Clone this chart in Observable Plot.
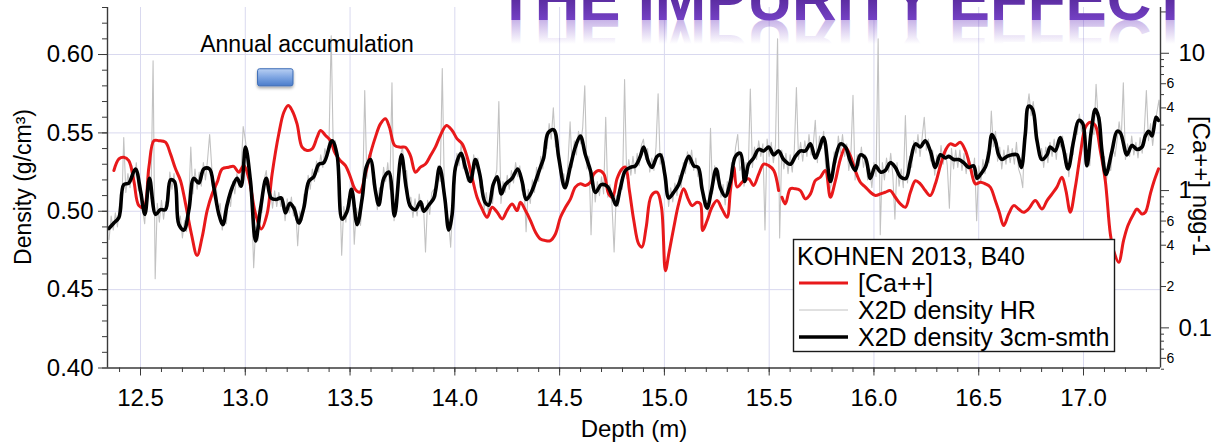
<!DOCTYPE html>
<html>
<head>
<meta charset="utf-8">
<script src="https://cdn.jsdelivr.net/npm/d3@7"></script>
<script src="https://cdn.jsdelivr.net/npm/@observablehq/plot@0.6"></script>
<style>
  html, body { margin: 0; padding: 0; background: #fff; }
  #wrap { position: relative; width: 1218px; height: 443px; overflow: hidden; background: #fff;
          font-family: "Liberation Sans", Arial, sans-serif; }
  #wrap > svg { position: absolute; left: 0; top: 0; }
</style>
</head>
<body>
<div id="wrap"></div>
<script>
// ---------- data ----------
const titleText = "THE IMPURITY EFFECT";
const xLabel = "Depth (m)";
const yLabel = "Density (g/cm³)";
const caLabel = "[Ca++] ngg-1";
const legendTitle = "KOHNEN 2013, B40";
const seriesNames = ["[Ca++]", "X2D density HR", "X2D density 3cm-smth"];

const depthDomain = [12.3425, 17.3674];
const densityDomain = [0.40, 0.63];
const depthTicks = [12.5, 13.0, 13.5, 14.0, 14.5, 15.0, 15.5, 16.0, 16.5, 17.0];
const depthMinor = [12.4,12.5,12.6,12.7,12.8,12.9,13.0,13.1,13.2,13.3,13.4,13.5,13.6,13.7,13.8,13.9,14.0,14.1,14.2,14.3,14.4,14.5,14.6,14.7,14.8,14.9,15.0,15.1,15.2,15.3,15.4,15.5,15.6,15.7,15.8,15.9,16.0,16.1,16.2,16.3,16.4,16.5,16.6,16.7,16.8,16.9,17.0,17.1,17.2,17.3];
const densityTicks = [0.40, 0.45, 0.50, 0.55, 0.60];
const densityGrid = [0.45, 0.50, 0.55, 0.60];
const densityMinor = [0.40,0.41,0.42,0.43,0.44,0.45,0.46,0.47,0.48,0.49,0.50,0.51,0.52,0.53,0.54,0.55,0.56,0.57,0.58,0.59,0.60,0.61,0.62,0.63];
const caMajor = [0.1, 1, 10];
const caLabeled = [0.06, 0.2, 0.4, 0.6, 2, 4, 6, 20];
const caMinor = [0.05, 0.07, 0.08, 0.09, 0.3, 0.5, 0.7, 0.8, 0.9, 3, 5, 7, 8, 9];
// right (log) axis alignment with the density axis: [Ca++]=1 sits at density 0.5132, one decade = 0.0876
const caOne = 0.5132, caDecade = 0.0876;

// smoothed density (3 cm)
const smDepth = [
 12.349,12.373,12.397,12.420,12.444,12.476,12.500,12.521,12.543,12.572,
 12.595,12.619,12.643,12.662,12.683,12.707,12.731,12.754,12.778,12.802,
 12.829,12.850,12.874,12.893,12.913,12.937,12.961,12.980,13.001,13.025,
 13.049,13.073,13.100,13.123,13.147,13.171,13.192,13.212,13.232,13.255,
 13.279,13.303,13.327,13.351,
 13.375,13.414,13.438,13.462,13.486,13.507,13.534,13.558,13.577,13.597,
 13.621,13.637,13.661,13.685,13.712,13.745,13.768,13.788,13.812,13.836,
 13.852,13.876,13.900,13.927,13.952,13.971,13.987,14.003,14.030,14.050,
 14.074,14.098,14.119,14.143,14.162,14.183,14.202,14.222,14.241,14.273,
 14.300,14.321,14.340,
 14.361,14.385,14.408,14.424,14.445,14.472,14.496,14.525,14.552,14.575,
 14.599,14.623,14.647,14.671,14.699,14.726,14.750,14.769,14.790,14.814,
 14.838,14.862,14.885,14.901,14.925,14.941,14.965,14.981,15.002,15.021,
 15.044,15.068,15.092,15.116,15.140,15.161,15.180,15.204,15.224,15.247,
 15.267,15.291,15.315,15.339,
 15.363,15.383,15.402,15.426,15.450,15.474,15.498,15.522,15.545,15.569,
 15.601,15.625,15.649,15.673,15.697,15.720,15.736,15.760,15.792,15.816,
 15.840,15.864,15.887,15.911,15.935,15.959,15.983,16.007,16.031,16.054,
 16.078,16.102,16.126,16.153,16.174,16.198,16.221,16.245,16.269,16.293,
 16.317,16.341,
 16.357,16.380,16.404,16.428,16.452,16.476,16.492,16.508,16.531,16.547,
 16.563,16.579,16.595,16.611,16.635,16.659,16.683,16.703,16.722,16.738,
 16.757,16.778,16.802,16.826,16.841,16.865,16.889,16.905,16.926,16.953,
 16.977,16.996,17.016,17.037,17.056,17.072,17.088,17.107,17.136,17.160,
 17.176,17.207,17.231,17.255,17.279,17.295,17.311,17.327,17.346,17.358
];
const smDensity = [
 .489,.4925,.496,.517,.518,.527,.513,.498,.521,.498,
 .501,.501,.520,.519,.4915,.488,.501,.521,.518,.527,
 .527,.515,.498,.4915,.504,.515,.521,.516,.541,.519,
 .481,.502,.521,.5085,.5075,.5085,.499,.505,.502,.4925,
 .502,.519,.522,.530,
 .531,.545,.536,.495,.500,.514,.4915,.5085,.528,.533,
 .513,.504,.521,.525,.497,.536,.515,.503,.501,.506,
 .500,.504,.5085,.528,.5085,.488,.498,.528,.537,.528,
 .519,.533,.5235,.506,.504,.517,.522,.511,.517,.521,
 .527,.519,.5075,
 .511,.519,.528,.534,.550,.552,.534,.515,.529,.541,
 .548,.536,.526,.512,.517,.516,.510,.504,.515,.526,
 .528,.529,.535,.541,.531,.528,.535,.536,.5235,.5085,
 .512,.517,.527,.535,.529,.528,.514,.502,.513,.527,
 .515,.5096,.519,.535,
 .537,.519,.530,.534,.5395,.5385,.541,.536,.5385,.533,
 .530,.535,.5385,.5385,.543,.534,.5385,.547,.519,.534,
 .543,.541,.532,.526,.536,.534,.521,.529,.525,.526,
 .531,.528,.522,.521,.532,.543,.541,.545,.5385,.528,
 .536,.534,
 .535,.533,.533,.531,.528,.529,.521,.5235,.528,.536,
 .549,.545,.536,.533,.535,.536,.536,.528,.549,.567,
 .565,.545,.533,.536,.541,.5385,.547,.5395,.527,.545,
 .558,.556,.529,.551,.565,.560,.5385,.5235,.5385,.551,
 .550,.536,.542,.5395,.541,.548,.551,.548,.560,.558
];

// high-resolution density, one value per cm starting at 12.35 m
const hrStart = 12.35, hrStep = 0.01;
const hrDensity = [
 .482,.497,.488,.499,.490,
 .505,.500,.547,.512,.524,.515,.529,.519,.531,.513,
 .518,.501,.492,.514,.526,.508,.596,.457,.505,.493,
 .507,.495,.506,.503,.525,.514,.524,.505,.492,.497,
 .483,.494,.487,.505,.541,.511,.527,.514,.525,.516,
 .531,.520,.533,.549,.528,.511,.519,.500,.505,.488,
 .500,.492,.510,.503,.519,.511,.524,.515,.525,.554,
 .546,.535,.528,.508,.464,.490,.481,.502,.499,.520,
 .526,.512,.515,.502,.513,.503,.512,.503,.509,.494,
 .508,.499,.509,.497,.503,.478,.500,.494,.511,.507,
 .523,.514,.527,.519,.532,.525,.536,.528,.540,.534,
 .547,.612,.538,.545,.529,.520,.472,.503,.493,.508,
 .503,.519,.479,.502,.497,.491,.510,.577,.521,.536,
 .537,.517,.520,.501,.515,.511,.528,.519,.531,.514,
 .582,.494,.511,.510,.535,.541,.525,.526,.506,.509,
 .496,.508,.497,.511,.500,.505,.474,.507,.498,.512,
 .514,.509,.529,.519,.591,.514,.490,.495,.477,.504,
 .519,.537,.529,.543,.527,.534,.519,.527,.520,.536,
 .527,.534,.515,.520,.501,.512,.499,.509,.505,.521,
 .526,.570,.505,.519,.512,.523,.514,.526,.518,.531,
 .522,.529,.513,.517,.487,.514,.505,.520,.512,.528,
 .519,.535,.527,.545,.540,.556,.546,.566,.541,.546,
 .537,.519,.524,.514,.531,.557,.528,.545,.536,.551,
 .543,.553,.580,.527,.535,.485,.524,.506,.519,.510,
 .522,.511,.560,.509,.517,.504,.474,.510,.503,.520,
 .514,.584,.521,.533,.523,.535,.524,.537,.529,.542,
 .546,.533,.540,.525,.534,.526,.541,.575,.530,.537,
 .520,.522,.503,.515,.506,.518,.510,.523,.515,.531,
 .524,.538,.530,.539,.526,.534,.522,.527,.519,.503,
 .507,.498,.553,.511,.529,.520,.526,.509,.517,.504,
 .519,.513,.531,.528,.541,.549,.526,.530,.516,.531,
 .524,.578,.528,.541,.533,.545,.535,.543,.488,.546,
 .535,.544,.531,.542,.610,.483,.539,.527,.537,.524,
 .536,.525,.539,.579,.533,.544,.532,.545,.535,.549,
 .536,.542,.558,.531,.548,.540,.551,.527,.531,.514,
 .519,.538,.531,.548,.537,.549,.535,.543,.526,.536,
 .574,.520,.536,.529,.541,.528,.536,.520,.527,.515,
 .531,.522,.610,.485,.531,.520,.534,.525,.537,.523,
 .495,.531,.516,.527,.515,.561,.518,.535,.528,.545,
 .537,.549,.535,.547,.560,.539,.546,.532,.539,.523,
 .536,.527,.542,.530,.540,.529,.502,.540,.527,.539,
 .528,.539,.526,.537,.524,.535,.531,.523,.534,.494,
 .529,.518,.533,.524,.538,.531,.564,.541,.551,.532,
 .541,.527,.539,.530,.542,.531,.540,.530,.544,.527,
 .523,.515,.552,.564,.575,.561,.570,.557,.549,.533,
 .540,.528,.541,.531,.544,.535,.546,.533,.547,.541,
 .548,.531,.537,.522,.541,.536,.553,.549,.562,.551,
 .557,.535,.536,.529,.552,.549,.581,.558,.560,.532,
 .535,.520,.532,.526,.541,.535,.545,.557,.546,.582,
 .533,.543,.535,.548,.536,.544,.534,.547,.537,.551,
 .577,.545,.556,.542,.554,.563,.571,.553
];

// [Ca++] concentration (ng/g), null = gap in the record
const caDepth = [
 12.373,12.397,12.420,12.444,12.468,12.492,12.516,12.540,12.564,12.587,
 12.619,12.643,12.667,12.691,12.715,12.743,12.770,12.794,12.818,12.842,
 12.866,12.890,12.921,12.945,12.969,12.993,13.017,13.049,13.077,13.104,
 13.128,13.160,13.184,13.205,13.224,13.247,13.271,13.295,13.319,13.343,
 13.359,13.383,13.406,13.430,13.454,13.478,13.502,13.523,13.546,13.573,
 13.597,13.621,13.645,13.669,13.688,13.713,13.740,13.764,13.788,13.812,
 13.836,13.860,13.884,13.907,13.931,13.960,13.987,14.011,14.035,14.059,
 14.082,14.106,14.130,14.154,14.178,14.202,14.226,14.249,14.273,14.297,
 14.313,14.337,
 14.361,14.385,14.408,14.432,14.456,14.480,14.504,14.528,14.552,14.575,
 14.599,14.623,14.647,14.663,14.687,14.711,14.734,14.753,14.774,14.798,
 14.814,14.833,14.854,14.877,14.893,14.913,14.938,14.965,14.986,15.005,
 15.021,15.045,15.068,15.092,15.113,15.132,15.156,15.172,15.183,15.204,
 15.227,15.251,15.275,15.299,15.315,15.331,15.347,
 15.378,15.402,15.426,15.450,15.474,15.498,15.522,15.545,15.553,15.561,
 15.577,15.601,15.625,15.649,15.673,15.697,15.720,15.744,15.768,15.792,
 15.816,15.840,15.864,15.887,15.911,15.935,15.959,15.983,16.007,16.031,
 16.054,16.078,16.102,16.126,16.150,16.174,16.198,16.221,16.245,16.269,
 16.293,16.317,16.341,16.364,
 16.388,16.412,16.436,16.460,16.484,16.508,16.531,16.555,16.579,16.598,
 16.619,16.643,16.667,16.690,16.714,16.738,16.770,16.802,16.826,16.850,
 16.873,16.897,16.916,16.937,16.961,16.985,17.009,17.032,17.056,17.080,
 17.104,17.128,17.144,17.168,17.191,17.212,17.239,17.255,17.279,17.295,
 17.319,17.335,17.358
];
const caValue = [
 1.40,1.70,1.75,1.65,1.18,0.777,0.756,1.48,2.31,2.31,
 2.25,1.85,1.44,1.18,0.80,0.483,0.336,0.457,0.715,0.946,
 1.15,1.44,1.48,1.50,1.36,1.52,1.22,0.676,0.526,0.676,
 1.32,2.59,3.72,4.16,3.82,3.06,2.07,1.96,2.01,2.45,
 2.74,2.52,2.31,1.85,1.65,1.52,1.25,1.03,0.972,1.32,
 1.85,2.45,3.06,3.33,2.89,2.13,2.07,2.07,1.80,1.36,
 1.48,1.56,1.80,2.07,2.52,2.98,2.74,2.38,2.19,1.75,
 1.25,0.894,0.735,0.639,0.756,0.695,0.622,0.715,0.80,0.715,
 0.822,0.715,
 0.605,0.497,0.444,0.432,0.432,0.483,0.639,0.756,0.870,1.06,
 1.12,1.09,1.15,1.32,1.40,1.32,0.946,0.894,1.22,1.44,
 1.48,1.00,0.605,0.409,0.387,0.541,0.920,0.972,0.756,0.261,
 0.346,0.541,0.80,1.03,0.870,0.777,0.822,0.80,0.511,0.605,
 0.756,0.846,0.735,0.639,1.00,1.48,1.06,
 1.18,1.22,1.09,1.32,1.56,1.52,1.40,1.00,null,0.894,
 0.80,1.03,1.03,1.00,0.870,0.946,1.18,1.25,1.40,0.894,
 1.18,1.70,2.07,1.80,1.40,1.15,1.06,0.972,0.920,0.946,
 0.972,1.00,0.894,0.80,0.756,0.972,1.18,1.12,1.00,0.920,
 1.12,1.52,1.96,2.19,
 2.13,2.25,1.96,1.48,1.12,1.15,1.12,1.06,0.846,0.695,
 0.556,0.676,0.777,0.735,0.695,0.735,0.846,0.735,0.846,0.946,
 1.06,1.25,1.00,0.695,1.06,1.85,2.89,3.15,2.98,1.96,
 1.18,0.483,0.365,0.300,0.432,0.556,0.676,0.735,0.676,0.695,
 0.946,1.15,1.44
];

// annotation: one year of accumulation (depth span) and its label
const annualLabel = ["Annual accumulation"];
const annualLabelAt = [13.2945, 0.6066];     // depth, density
const annualSpan = [13.061, 13.230];          // depth
const annualLevel = [0.5797, 0.5906];         // density

// ---------- build ----------
const caToDensity = v => (v == null ? NaN : caOne + caDecade * Math.log10(v));
const leadDigit = d => String(Math.round(d / Math.pow(10, Math.floor(Math.log10(d) + 1e-9))));

const sm = smDepth.map((d, i) => ({depth: d, density: smDensity[i]}));
const hr = hrDensity.map((v, i) => ({depth: +(hrStart + i * hrStep).toFixed(2), density: v}));
const ca = caDepth.map((d, i) => ({depth: d, ca: caValue[i]}));
const annual = [{x1: annualSpan[0], x2: annualSpan[1], y1: annualLevel[0], y2: annualLevel[1]}];
const annualText = [{depth: annualLabelAt[0], density: annualLabelAt[1], label: annualLabel[0]}];

const axisColor = "#3a3a3a";
const gridColor = "#d9d9ef";
const red = "#e8191b";
const hrGray = "#c2c2c2";

const chart = Plot.plot({
  width: 1218,
  height: 443,
  marginLeft: 107,
  marginRight: 58,
  marginTop: 7,
  marginBottom: 75.5,
  x: {domain: depthDomain, label: null},
  y: {domain: densityDomain, label: null},
  style: {fontFamily: '"Liberation Sans", Arial, sans-serif', fontSize: "24px", color: "#000", background: "transparent", overflow: "visible"},
  marks: [
    Plot.gridX(depthTicks, {stroke: gridColor, strokeOpacity: 1, strokeWidth: 1}),
    Plot.gridY(densityGrid, {stroke: gridColor, strokeOpacity: 1, strokeWidth: 1}),
    Plot.line(hr, {x: "depth", y: "density", stroke: hrGray, strokeWidth: 1.1, clip: true}),
    Plot.line(ca, {x: "depth", y: d => caToDensity(d.ca), stroke: red, strokeWidth: 3, curve: "catmull-rom", clip: true}),
    Plot.line(sm, {x: "depth", y: "density", stroke: "#000", strokeWidth: 3.6, curve: "catmull-rom", clip: true}),
    Plot.rect(annual, {x1: "x1", x2: "x2", y1: "y1", y2: "y2", fill: "url(#accGrad)", stroke: "#3c6cb6", strokeWidth: 1, rx: 2}),
    Plot.text(annualText, {x: "depth", y: "density", text: "label", fontSize: 23}),
    Plot.ruleX(depthDomain, {stroke: axisColor, strokeWidth: 1.4}),
    Plot.ruleY([densityDomain[0]], {stroke: axisColor, strokeWidth: 1.4}),
    Plot.axisX(depthTicks, {anchor: "bottom", tickSize: 8, tickPadding: 13, tickFormat: d => d.toFixed(1), fontSize: 24, stroke: axisColor, label: null}),
    Plot.axisX(depthMinor, {anchor: "bottom", tickSize: 4.5, tickFormat: () => "", stroke: axisColor, label: null}),
    Plot.axisY(densityTicks, {anchor: "left", tickSize: 9, tickPadding: 5, tickFormat: d => d.toFixed(2), fontSize: 24, stroke: axisColor, label: null}),
    Plot.axisY(densityMinor, {anchor: "left", tickSize: 5, tickFormat: () => "", stroke: axisColor, label: null}),
    Plot.axisY(caMajor, {anchor: "right", y: caToDensity, tickSize: 8, tickPadding: 10, tickFormat: d => String(d), fontSize: 24, stroke: axisColor, label: null}),
    Plot.axisY(caLabeled, {anchor: "right", y: caToDensity, tickSize: 5, tickPadding: 1, tickFormat: leadDigit, fontSize: 14, stroke: axisColor, label: null}),
    Plot.axisY(caMinor, {anchor: "right", y: caToDensity, tickSize: 3, tickFormat: () => "", stroke: axisColor, label: null})
  ]
});

d3.select(chart).insert("defs", ":first-child").html(
  '<linearGradient id="accGrad" x1="0" y1="0" x2="0" y2="1">' +
  '<stop offset="0" stop-color="#b9d0f3"/><stop offset="0.5" stop-color="#7ea5e2"/><stop offset="1" stop-color="#4a7ccb"/></linearGradient>' +
  '<filter id="accShadow" x="-30%" y="-40%" width="160%" height="200%"><feDropShadow dx="0" dy="2" stdDeviation="1.5" flood-color="#000" flood-opacity="0.35"/></filter>'
);
d3.select(chart).selectAll('g[aria-label="rect"] rect').attr("filter", "url(#accShadow)");

const wrap = document.getElementById("wrap");
wrap.appendChild(chart);

// ---------- overlay: axis titles, page title and legend ----------
const ns = "http://www.w3.org/2000/svg";
const over = d3.select(wrap).append("svg")
  .attr("xmlns", ns).attr("width", 1218).attr("height", 443)
  .style("pointer-events", "none")
  .style("font-family", '"Liberation Sans", Arial, sans-serif');

// axis titles, centred on the plot frame
over.append("text").attr("transform", "translate(23,187) rotate(-90)")
  .attr("text-anchor", "middle").attr("dominant-baseline", "central")
  .attr("font-size", 23).text(yLabel);
over.append("text").attr("transform", "translate(1201,186) rotate(90)")
  .attr("text-anchor", "middle").attr("dominant-baseline", "central")
  .attr("font-size", 24).text(caLabel);
over.append("text").attr("x", 634).attr("y", 428)
  .attr("text-anchor", "middle").attr("dominant-baseline", "central")
  .attr("font-size", 24).text(xLabel);

const defs = over.append("defs");
const tg = defs.append("linearGradient").attr("id", "titleGrad").attr("gradientUnits", "userSpaceOnUse")
  .attr("x1", 0).attr("y1", -25).attr("x2", 0).attr("y2", 20);
tg.append("stop").attr("offset", 0).attr("stop-color", "#3f1578");
tg.append("stop").attr("offset", 1).attr("stop-color", "#7441c4");
const rg = defs.append("linearGradient").attr("id", "reflGrad").attr("gradientUnits", "userSpaceOnUse")
  .attr("x1", 0).attr("y1", 20).attr("x2", 0).attr("y2", -4);
rg.append("stop").attr("offset", 0).attr("stop-color", "#7441c4").attr("stop-opacity", 0.4);
rg.append("stop").attr("offset", 1).attr("stop-color", "#7441c4").attr("stop-opacity", 0);

over.append("g").attr("transform", "translate(0,40) scale(1,-1)")
  .append("text").attr("x", 497).attr("y", 20)
  .attr("font-size", 62).attr("font-weight", "bold")
  .attr("textLength", 692).attr("lengthAdjust", "spacingAndGlyphs")
  .attr("fill", "url(#reflGrad)").text(titleText);
over.append("text").attr("x", 497).attr("y", 20)
  .attr("font-size", 62).attr("font-weight", "bold")
  .attr("textLength", 692).attr("lengthAdjust", "spacingAndGlyphs")
  .attr("fill", "url(#titleGrad)").text(titleText);

const lg = over.append("g");
lg.append("rect").attr("x", 793.5).attr("y", 239.5).attr("width", 321).attr("height", 112)
  .attr("fill", "#fff").attr("stroke", "#1a1a1a").attr("stroke-width", 1.4);
lg.append("text").attr("x", 797).attr("y", 256).attr("dominant-baseline", "central")
  .attr("font-size", 25).text(legendTitle);
const swatches = [
  {stroke: red, width: 3, y: 283},
  {stroke: hrGray, width: 1, y: 310},
  {stroke: "#000", width: 3.6, y: 337}
];
swatches.forEach((s, i) => {
  lg.append("line").attr("x1", 799).attr("x2", 848).attr("y1", s.y).attr("y2", s.y)
    .attr("stroke", s.stroke).attr("stroke-width", s.width);
  lg.append("text").attr("x", 858).attr("y", s.y).attr("dominant-baseline", "central")
    .attr("font-size", 25).text(seriesNames[i]);
});
</script>
</body>
</html>
